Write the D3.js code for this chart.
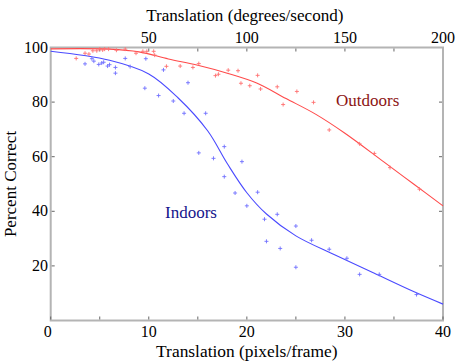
<!DOCTYPE html>
<html><head><meta charset="utf-8">
<script src="https://cdn.jsdelivr.net/npm/d3@7"></script>
<style>html,body{margin:0;padding:0;background:#fff;} svg{display:block;} text{font-family:"Liberation Serif","Times New Roman",serif;}</style>
</head><body>
<svg id="chart" width="456" height="363"></svg>
<script>
// Data
const xTicksBottom = [0, 10, 20, 30, 40];
const xTicksTop = [50, 100, 150, 200];
const yTicks = [20, 40, 60, 80, 100];

const indoorPts = [[3.5,94.0],[4.2,95.9],[4.4,95.0],[4.9,93.8],[5.2,94.3],[5.4,94.6],[5.8,93.2],[6.0,93.7],[6.6,92.7],[6.6,90.6],[7.6,96.0],[8.1,93.0],[9.7,95.9],[9.6,85.1],[11.0,82.4],[11.5,91.8],[12.5,80.4],[13.6,75.9],[14.0,87.1],[15.1,61.4],[15.8,75.9],[16.6,59.4],[17.7,63.7],[17.7,52.7],[18.8,46.7],[19.5,58.2],[20.0,42.0],[21.1,47.0],[21.8,37.1],[22.0,29.0],[23.1,38.9],[23.4,26.4],[25.0,34.6],[25.0,19.5],[26.6,29.4],[28.4,26.1],[30.2,22.8],[31.5,16.9],[33.5,16.9],[37.3,9.5]];
const outdoorPts = [[2.6,96.0],[3.5,97.9],[3.9,97.6],[4.3,98.8],[4.7,98.8],[5.0,99.4],[5.3,99.1],[5.5,99.4],[5.9,99.4],[6.7,99.0],[7.6,99.4],[8.7,97.9],[9.4,98.6],[9.8,98.6],[10.5,98.6],[10.6,97.2],[11.8,93.1],[13.2,93.2],[14.5,92.7],[15.1,94.1],[16.8,89.7],[17.1,90.2],[18.1,91.7],[19.1,91.5],[19.4,86.9],[20.3,86.0],[21.1,89.8],[21.4,84.8],[23.1,85.6],[23.7,79.1],[25.1,83.9],[26.8,79.9],[28.4,69.8],[31.5,64.7],[33.0,61.2],[34.6,56.0],[37.6,48.1]];
const indoorFit = [[0,98.6],[6,95.3],[10,90.3],[13,81.5],[16,69.5],[18,57.5],[20,46.8],[22,39.0],[25,31.0],[29,24.0],[33,17.3],[37,10.6],[40,6.0]];
const outdoorFit = [[0,99.5],[6,99.4],[9,98.4],[12,95.8],[15,93.5],[18,90.6],[21,87.0],[24,81.3],[27,75.6],[30,68.6],[34,58.0],[37,50.0],[40,42.0]];

const svg = d3.select("#chart");
const L = 50.7, R = 443, T = 47.5, B = 320.5;
const x = d3.scaleLinear().domain([0, 40]).range([L, R]);
const xTop = d3.scaleLinear().domain([0, 200]).range([L, R]);
const y = d3.scaleLinear().domain([0, 100]).range([B, T]);

const tickCol = "#666", axisCol = "#b4b4b4";

// Frame
svg.append("rect").attr("x", L).attr("y", T).attr("width", R - L).attr("height", B - T)
  .attr("fill", "none").attr("stroke", axisCol).attr("stroke-width", 2);

// Bottom ticks (inward)
svg.append("g").selectAll("line").data(d3.range(0, 41, 5)).join("line")
  .attr("x1", d => x(d)).attr("x2", d => x(d)).attr("y1", B - 1).attr("y2", B - 4)
  .attr("stroke", tickCol).attr("stroke-width", 1);
// Top ticks
svg.append("g").selectAll("line").data(d3.range(25, 200, 25)).join("line")
  .attr("x1", d => xTop(d)).attr("x2", d => xTop(d)).attr("y1", T + 1).attr("y2", T + 4)
  .attr("stroke", tickCol).attr("stroke-width", 1);
// Left / right ticks
svg.append("g").selectAll("line").data(yTicks.slice(0, 4)).join("line")
  .attr("x1", L + 1).attr("x2", L + 4).attr("y1", d => y(d)).attr("y2", d => y(d))
  .attr("stroke", tickCol).attr("stroke-width", 1);
svg.append("g").selectAll("line").data(yTicks.slice(0, 4)).join("line")
  .attr("x1", R - 1).attr("x2", R - 4).attr("y1", d => y(d)).attr("y2", d => y(d))
  .attr("stroke", tickCol).attr("stroke-width", 1);

// Tick labels
svg.append("g").selectAll("text").data(xTicksBottom).join("text")
  .attr("x", d => x(d) - (d === 0 ? 3 : 0)).attr("y", 337).attr("text-anchor", "middle")
  .attr("font-size", 16).attr("fill", "#000").text(d => d);
svg.append("g").selectAll("text").data(xTicksTop).join("text")
  .attr("x", d => xTop(d)).attr("y", 43).attr("text-anchor", "middle")
  .attr("font-size", 16).attr("fill", "#000").text(d => d);
svg.append("g").selectAll("text").data(yTicks).join("text")
  .attr("x", 48).attr("y", d => y(d) + 5).attr("text-anchor", "end")
  .attr("font-size", 16).attr("fill", "#000").text(d => d);

// Axis titles
svg.append("text").attr("x", (L + R) / 2).attr("y", 357).attr("text-anchor", "middle")
  .attr("font-size", 17.4).text("Translation (pixels/frame)");
svg.append("text").attr("x", (L + R) / 2 - 2).attr("y", 21).attr("text-anchor", "middle")
  .attr("font-size", 17.1).text("Translation (degrees/second)");
svg.append("text").attr("transform", `translate(16,${(T + B) / 2}) rotate(-90)`)
  .attr("text-anchor", "middle").attr("font-size", 17).text("Percent Correct");

// Fit lines
const line = d3.line().x(d => x(d[0])).y(d => y(d[1])).curve(d3.curveCatmullRom.alpha(0.5));
svg.append("path").datum(outdoorFit).attr("d", line).attr("fill", "none")
  .attr("stroke", "#ff4a4a").attr("stroke-width", 1.1);
svg.append("path").datum(indoorFit).attr("d", line).attr("fill", "none")
  .attr("stroke", "#4a4aff").attr("stroke-width", 1.1);

// Points
function plus(sel, data, col) {
  const g = sel.append("g").attr("stroke", col).attr("stroke-width", 0.9);
  data.forEach(d => {
    const cx = x(d[0]), cy = y(d[1]);
    g.append("line").attr("x1", cx - 2).attr("x2", cx + 2).attr("y1", cy).attr("y2", cy);
    g.append("line").attr("x1", cx).attr("x2", cx).attr("y1", cy - 2).attr("y2", cy + 2);
  });
}
plus(svg, outdoorPts, "#ff7070");
plus(svg, indoorPts, "#7070ff");

// Labels
svg.append("text").attr("x", 336).attr("y", 106).attr("font-size", 17).attr("fill", "#8c1414").text("Outdoors");
svg.append("text").attr("x", 165).attr("y", 218).attr("font-size", 17).attr("fill", "#14148c").text("Indoors");
</script>
</body></html>
